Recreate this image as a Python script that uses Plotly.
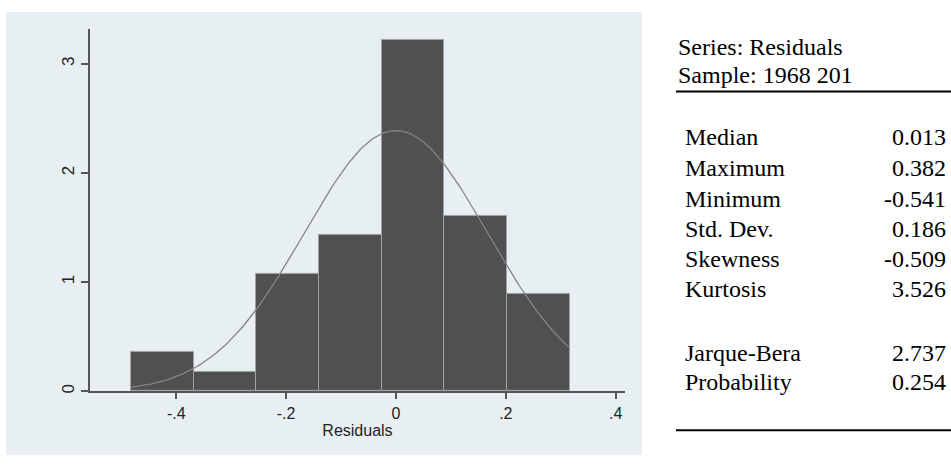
import numpy as np
import plotly.graph_objects as go

# Histogram bins (left edges) and densities
bin_left = [-0.4827, -0.3685, -0.2543, -0.1401, -0.0259, 0.0883, 0.2025]
bin_width = 0.1142
density = [0.357, 0.179, 1.072, 1.430, 3.217, 1.608, 0.894]

norm_mean = 0.0
norm_sd = 0.167

x_ticks = [-0.4, -0.2, 0, 0.2, 0.4]
x_ticktext = ["-.4", "-.2", "0", ".2", ".4"]
y_ticks = [0, 1, 2, 3]

stat_labels = ["Median", "Maximum", "Minimum", "Std. Dev.", "Skewness", "Kurtosis", "Jarque-Bera", "Probability"]
stat_values = ["0.013", "0.382", "-0.541", "0.186", "-0.509", "3.526", "2.737", "0.254"]
header_lines = ["Series: Residuals", "Sample: 1968 201"]

W, H = 951, 468

fig = go.Figure()

fig.add_trace(go.Bar(
    x=bin_left, y=density, width=[bin_width] * len(density), offset=0,
    marker=dict(color="#505050", line=dict(color="#a2a2a2", width=1)),
    showlegend=False, hoverinfo="skip"
))

xs = np.linspace(bin_left[0], bin_left[-1] + bin_width, 200)
ys = np.exp(-0.5 * ((xs - norm_mean) / norm_sd) ** 2) / (norm_sd * np.sqrt(2 * np.pi))
fig.add_trace(go.Scatter(x=xs, y=ys, mode="lines",
                         line=dict(color="#858585", width=1.3),
                         showlegend=False, hoverinfo="skip"))

def px_x(p):
    return p / W

def px_y(p):
    return 1 - p / H

shapes = [
    dict(type="rect", xref="paper", yref="paper",
         x0=px_x(6), x1=px_x(642), y0=px_y(457), y1=px_y(12),
         fillcolor="#e8eff2", line=dict(width=0), layer="below"),
    dict(type="line", xref="paper", yref="paper",
         x0=px_x(676), x1=px_x(951), y0=px_y(92), y1=px_y(92),
         line=dict(color="black", width=2)),
    dict(type="line", xref="paper", yref="paper",
         x0=px_x(676), x1=px_x(951), y0=px_y(432), y1=px_y(432),
         line=dict(color="black", width=2)),
]

annotations = []
serif = "Liberation Serif, Times New Roman, serif"
for i, t in enumerate(header_lines):
    annotations.append(dict(text=t, xref="paper", yref="paper",
                            x=px_x(676), y=px_y([47, 75][i]),
                            xanchor="left", yanchor="middle", showarrow=False,
                            font=dict(family=serif, size=24, color="black")))
row_y = [138, 169, 200, 230, 260, 290, 355, 384]
for lab, val, yy in zip(stat_labels, stat_values, row_y):
    annotations.append(dict(text=lab, xref="paper", yref="paper",
                            x=px_x(683), y=px_y(yy), xanchor="left", yanchor="middle",
                            showarrow=False, font=dict(family=serif, size=24, color="black")))
    annotations.append(dict(text=val, xref="paper", yref="paper",
                            x=px_x(948), y=px_y(yy), xanchor="right", yanchor="middle",
                            showarrow=False, font=dict(family=serif, size=24, color="black")))

fig.update_layout(
    width=W, height=H,
    margin=dict(l=0, r=0, t=0, b=0),
    paper_bgcolor="white", plot_bgcolor="white",
    bargap=0,
    shapes=shapes, annotations=annotations,
    xaxis=dict(domain=[px_x(90), px_x(625)], range=[-0.557, 0.417],
               tickvals=x_ticks, ticktext=x_ticktext,
               ticks="outside", ticklen=6, tickcolor="#555", tickwidth=1.5,
               showline=True, linecolor="#555", linewidth=2,
               showgrid=False, zeroline=False,
               tickfont=dict(family="Arial, Liberation Sans", size=16, color="#222"),
               title=dict(text="Residuals", standoff=4,
                          font=dict(family="Arial, Liberation Sans", size=16, color="#222"))),
    yaxis=dict(domain=[px_y(393), px_y(29)], range=[0, 3.32],
               tickvals=y_ticks, tickangle=-90,
               ticks="outside", ticklen=7, tickcolor="#555", tickwidth=1.5,
               showline=True, linecolor="#555", linewidth=2,
               showgrid=True, gridcolor="#e6eef1", gridwidth=1, zeroline=False,
               tickfont=dict(family="Arial, Liberation Sans", size=17, color="#222")),
)

fig.write_html("out.html", config={"displayModeBar": False},
               post_script="document.body.style.margin='0';")
